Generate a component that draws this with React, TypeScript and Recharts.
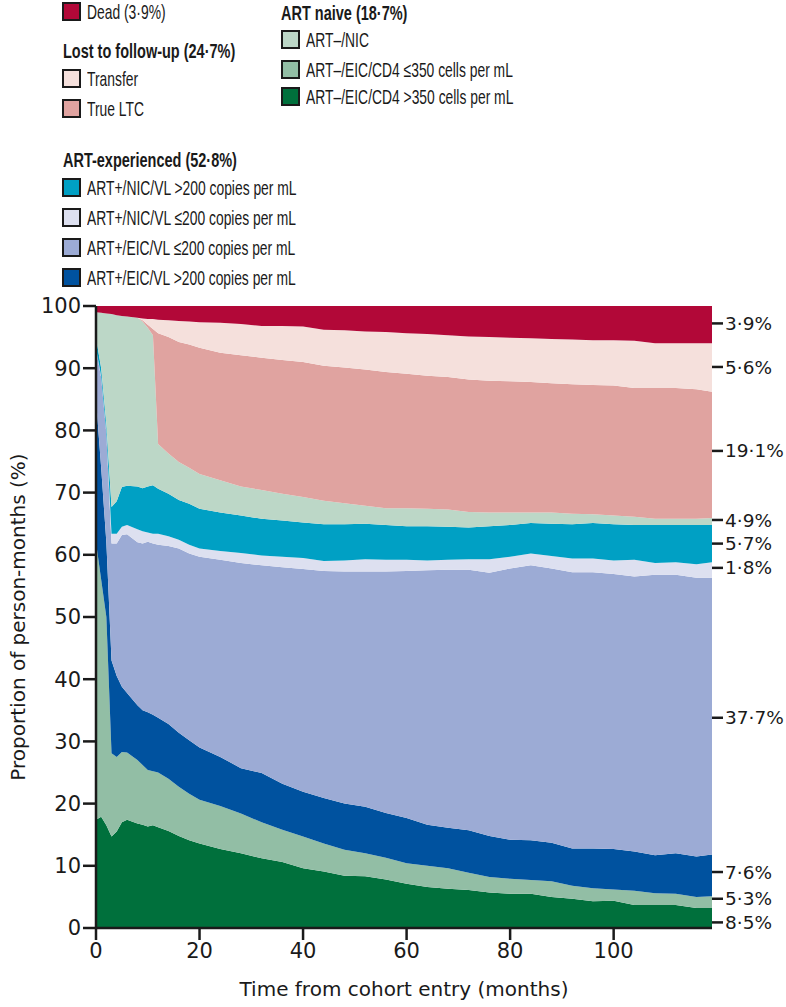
import { Area, AreaChart, Label, XAxis, YAxis } from 'recharts';

// months
const months = [
  0, 1, 2, 3, 4, 5, 6, 8, 9, 10, 11, 12, 14, 16, 18, 20, 24, 28, 32, 36, 40, 44, 48, 52, 56, 60, 64,
  68, 72, 76, 80, 84, 88, 92, 96, 100, 104, 108, 112, 116, 119,
];

// band thickness (% of person-months), bottom to top
const naiveCd4High = [
  17.4, 17.9, 16.5, 14.7, 15.5, 17.0, 17.4, 16.8, 16.6, 16.3, 16.5, 16.2, 15.6, 14.8, 14.1, 13.6,
  12.7, 12.0, 11.2, 10.6, 9.6, 9.1, 8.4, 8.3, 7.8, 7.1, 6.6, 6.3, 6.1, 5.7, 5.5, 5.5, 5.0, 4.7, 4.3,
  4.4, 3.7, 3.7, 3.7, 3.2, 3.2,
];
const naiveCd4Low = [
  44.6, 38.1, 33.5, 13.4, 12.0, 11.3, 10.8, 10.2, 9.6, 9.1, 8.7, 8.8, 8.4, 7.9, 7.5, 7.0, 6.9, 6.4,
  5.8, 5.2, 5.1, 4.5, 4.2, 3.7, 3.5, 3.3, 3.4, 3.3, 2.8, 2.5, 2.4, 2.2, 2.5, 2.1, 2.1, 1.8, 2.3, 1.9,
  1.8, 1.8, 1.9,
];
const expEicVlHigh = [
  23.0, 18.0, 12.0, 14.9, 13.0, 10.5, 9.6, 8.8, 8.8, 9.3, 9.1, 8.8, 8.8, 8.7, 8.6, 8.4, 7.9, 7.3,
  7.9, 7.4, 7.2, 7.3, 7.4, 7.5, 7.2, 7.3, 6.6, 6.5, 6.8, 6.6, 6.3, 6.4, 6.2, 6.0, 6.4, 6.5, 6.3, 6.1,
  6.5, 6.5, 6.7,
];
const expEicVlLow = [
  8.0, 14.5, 17.5, 18.8, 21.3, 24.4, 25.5, 26.2, 26.8, 27.4, 27.5, 27.8, 28.6, 29.6, 30.0, 30.7,
  31.7, 33.0, 33.4, 34.8, 35.8, 36.5, 37.3, 37.8, 38.8, 39.7, 40.9, 41.5, 41.9, 42.3, 43.6, 44.2,
  44.1, 44.4, 44.4, 44.2, 44.2, 45.1, 44.8, 44.8, 44.5,
];
const expNicVlLow = [
  0.2, 0.2, 0.2, 1.6, 1.6, 1.3, 1.5, 2.1, 2.0, 1.5, 1.6, 1.8, 1.6, 1.4, 1.4, 1.3, 1.4, 1.6, 1.6, 1.7,
  1.8, 1.6, 1.8, 2.0, 1.9, 1.8, 1.6, 1.6, 1.7, 2.2, 1.9, 1.9, 2.0, 2.2, 2.2, 2.2, 2.7, 1.9, 2.0, 2.2,
  2.5,
];
const expNicVlHigh = [
  1.7, 1.3, 1.3, 4.3, 5.2, 6.4, 6.3, 6.9, 6.9, 7.4, 7.8, 7.2, 6.8, 6.4, 6.6, 6.4, 6.2, 6.0, 5.9, 5.8,
  5.7, 5.9, 5.8, 5.7, 5.6, 5.4, 5.5, 5.3, 5.1, 5.3, 5.1, 4.9, 5.2, 5.5, 5.7, 5.8, 5.6, 6.1, 6.0, 6.3,
  6.0,
];
const naiveNic = [
  4.1, 8.9, 17.8, 31.0, 29.9, 27.5, 27.2, 27.1, 26.8, 25.5, 24.1, 7.2, 6.5, 6.1, 5.8, 5.6, 5.2, 4.7,
  4.6, 4.3, 4.1, 3.8, 3.4, 2.9, 2.7, 2.9, 2.8, 2.8, 2.5, 2.2, 2.0, 1.7, 1.8, 1.7, 1.4, 1.4, 1.3, 1.0,
  1.0, 1.0, 1.1,
];
const trueLtc = [
  0, 0, 0, 0, 0, 0, 0, 0, 0.2, 0.5, 1.0, 17.8, 18.7, 19.3, 19.8, 20.3, 20.5, 21.1, 21.3, 21.5, 21.7,
  21.7, 21.8, 21.9, 21.9, 21.6, 21.4, 21.3, 21.3, 21.2, 21.1, 21.0, 20.8, 20.8, 20.8, 20.9, 20.7,
  21.0, 21.0, 20.8, 20.3,
];
const transfer = [
  0, 0, 0, 0, 0, 0, 0, 0, 0.3, 0.9, 1.6, 2.2, 2.7, 3.4, 3.7, 4.1, 4.8, 5.0, 5.1, 5.5, 5.7, 5.8, 6.0,
  6.1, 6.4, 6.5, 6.7, 6.7, 6.9, 7.0, 7.0, 7.0, 7.1, 7.2, 7.2, 7.3, 7.6, 7.2, 7.2, 7.4, 7.8,
];
const dead = [
  1.0, 1.1, 1.2, 1.3, 1.5, 1.6, 1.7, 1.9, 2.0, 2.1, 2.1, 2.2, 2.3, 2.4, 2.5, 2.6, 2.7, 2.9, 3.2, 3.2,
  3.3, 3.8, 3.9, 4.1, 4.2, 4.4, 4.5, 4.7, 4.9, 5.0, 5.1, 5.2, 5.3, 5.4, 5.5, 5.5, 5.6, 6.0, 6.0, 6.0,
  6.0,
];

// overall shares shown on the right, with the height each label sits at
const shareLabels = ['3·9%', '5·6%', '19·1%', '4·9%', '5·7%', '1·8%', '37·7%', '7·6%', '5·3%', '8·5%'];
const shareAt = [97.2, 90.2, 76.7, 65.6, 61.8, 57.9, 33.8, 9.0, 4.7, 0.9];

const yTicks = [0, 10, 20, 30, 40, 50, 60, 70, 80, 90, 100];
const xTicks = [0, 20, 40, 60, 80, 100];

const COLORS = {
  dead: '#B20838',
  transfer: '#F5E0DC',
  trueLtc: '#E0A3A0',
  naiveNic: '#BCD7C7',
  naiveCd4Low: '#92BEA5',
  naiveCd4High: '#00703C',
  expNicVlHigh: '#00A0C4',
  expNicVlLow: '#DDE0F0',
  expEicVlLow: '#9CABD5',
  expEicVlHigh: '#00529F',
};

// bottom-to-top stack order
const SERIES: { key: keyof typeof COLORS; values: number[] }[] = [
  { key: 'naiveCd4High', values: naiveCd4High },
  { key: 'naiveCd4Low', values: naiveCd4Low },
  { key: 'expEicVlHigh', values: expEicVlHigh },
  { key: 'expEicVlLow', values: expEicVlLow },
  { key: 'expNicVlLow', values: expNicVlLow },
  { key: 'expNicVlHigh', values: expNicVlHigh },
  { key: 'naiveNic', values: naiveNic },
  { key: 'trueLtc', values: trueLtc },
  { key: 'transfer', values: transfer },
  { key: 'dead', values: dead },
];

const data = months.map((month, i) => {
  const row: Record<string, number> = { month };
  SERIES.forEach((s) => {
    row[s.key] = s.values[i];
  });
  return row;
});

// no condensed face installed, so the legend text is squeezed horizontally
const LEGEND_FONT = '"Liberation Sans", Arial, sans-serif';
const AXIS_FONT = '"DejaVu Sans", "Open Sans", sans-serif';
const INK = '#1a1a1a';

function Swatch({ color }: { color: string }) {
  return (
    <span
      style={{
        display: 'inline-block',
        boxSizing: 'border-box',
        width: 19,
        height: 19,
        border: `2px solid ${INK}`,
        backgroundColor: color,
        marginRight: 6,
        flexShrink: 0,
      }}
    />
  );
}

function Row({ top, left, color, label }: { top: number; left: number; color: string; label: string }) {
  return (
    <div
      style={{
        position: 'absolute',
        top,
        left,
        height: 19,
        display: 'flex',
        alignItems: 'center',
        whiteSpace: 'nowrap',
        fontSize: 21,
      }}
    >
      <Swatch color={color} />
      <span
        style={{ display: 'inline-block', transform: 'scaleX(0.66)', transformOrigin: 'left center' }}
      >
        {label}
      </span>
    </div>
  );
}

function Heading({ top, left, text }: { top: number; left: number; text: string }) {
  return (
    <div
      style={{
        position: 'absolute',
        top,
        left,
        fontSize: 21,
        fontWeight: 700,
        lineHeight: '22px',
        whiteSpace: 'nowrap',
        transform: 'scaleX(0.69)',
        transformOrigin: 'left center',
      }}
    >
      {text}
    </div>
  );
}

function ChartLegend() {
  return (
    <div style={{ fontFamily: LEGEND_FONT, color: INK }}>
      <Row top={2} left={62} color={COLORS.dead} label="Dead (3·9%)" />
      <Heading top={40} left={63} text="Lost to follow-up (24·7%)" />
      <Row top={69} left={62} color={COLORS.transfer} label="Transfer" />
      <Row top={99} left={62} color={COLORS.trueLtc} label="True LTC" />
      <Heading top={149} left={63} text="ART-experienced (52·8%)" />
      <Row top={178} left={62} color={COLORS.expNicVlHigh} label="ART+/NIC/VL >200 copies per mL" />
      <Row top={208} left={62} color={COLORS.expNicVlLow} label="ART+/NIC/VL ≤200 copies per mL" />
      <Row top={238} left={62} color={COLORS.expEicVlLow} label="ART+/EIC/VL ≤200 copies per mL" />
      <Row top={268} left={62} color={COLORS.expEicVlHigh} label="ART+/EIC/VL >200 copies per mL" />
      <Heading top={2} left={281} text="ART naive (18·7%)" />
      <Row top={30} left={281} color={COLORS.naiveNic} label="ART–/NIC" />
      <Row top={60} left={281} color={COLORS.naiveCd4Low} label="ART–/EIC/CD4 ≤350 cells per mL" />
      <Row top={87} left={281} color={COLORS.naiveCd4High} label="ART–/EIC/CD4 >350 cells per mL" />
    </div>
  );
}

export default function App() {
  return (
    <div
      style={{
        position: 'absolute',
        left: 0,
        top: 0,
        width: 786,
        height: 1007,
        background: '#fff',
        overflow: 'hidden',
      }}
    >
      <ChartLegend />
      <div style={{ position: 'absolute', left: 0, top: 0 }}>
        <AreaChart
          width={786}
          height={1007}
          data={data}
          margin={{ top: 306, right: 4, bottom: 29, left: 16 }}
        >
          <XAxis
            dataKey="month"
            type="number"
            domain={[0, 119]}
            ticks={xTicks}
            interval={0}
            height={50}
            axisLine={{ stroke: INK, strokeWidth: 2.5 }}
            tickLine={{ stroke: INK, strokeWidth: 2.5 }}
            tickSize={12}
            tickMargin={3}
            tick={{ fill: INK, fontSize: 21, fontFamily: AXIS_FONT }}
          >
            <Label
              value="Time from cohort entry (months)"
              position="bottom"
              offset={4}
              style={{ fill: INK, fontSize: 20, fontFamily: AXIS_FONT }}
            />
          </XAxis>
          <YAxis
            yAxisId="left"
            domain={[0, 100]}
            ticks={yTicks}
            interval={0}
            width={80}
            axisLine={{ stroke: INK, strokeWidth: 2.5 }}
            tickLine={{ stroke: INK, strokeWidth: 2.5 }}
            tickSize={13}
            tickMargin={2}
            tick={{ fill: INK, fontSize: 21, fontFamily: AXIS_FONT }}
          >
            <Label
              value="Proportion of person-months (%)"
              angle={-90}
              position="insideLeft"
              offset={2}
              style={{ textAnchor: 'middle', fill: INK, fontSize: 20, fontFamily: AXIS_FONT }}
            />
          </YAxis>
          <YAxis
            yAxisId="right"
            orientation="right"
            type="number"
            domain={[0, 100]}
            allowDataOverflow
            ticks={shareAt}
            interval={0}
            width={70}
            axisLine={false}
            tickLine={{ stroke: INK, strokeWidth: 2.5 }}
            tickSize={11}
            tickMargin={2}
            tickFormatter={(v: number) => shareLabels[shareAt.indexOf(v)] ?? ''}
            tick={{ fill: INK, fontSize: 18.5, fontFamily: AXIS_FONT }}
          />
          {SERIES.map((s) => (
            <Area
              key={s.key}
              yAxisId="left"
              type="linear"
              dataKey={s.key}
              stackId="1"
              stroke="none"
              fill={COLORS[s.key]}
              fillOpacity={1}
              dot={false}
              activeDot={false}
              isAnimationActive={false}
            />
          ))}
        </AreaChart>
      </div>
    </div>
  );
}
